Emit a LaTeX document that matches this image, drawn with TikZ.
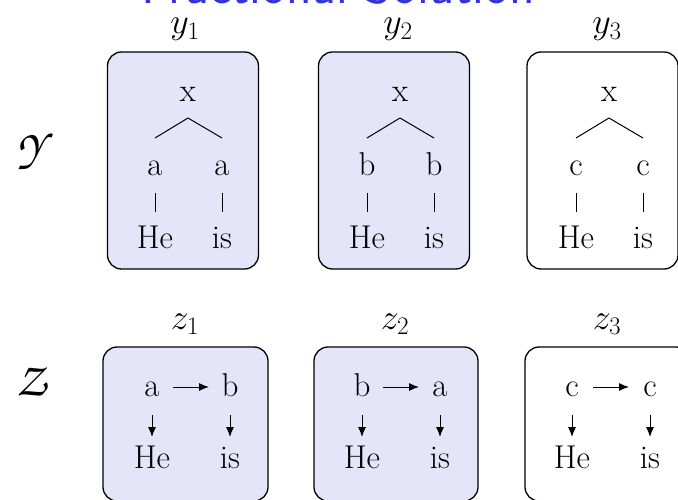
\RequirePackage{fix-cm}
\documentclass[tikz,border=0pt]{standalone}
\usetikzlibrary{calc,arrows.meta}
\definecolor{boxfill}{RGB}{229,229,250}
\definecolor{titleblue}{RGB}{51,51,220}
\tikzset{
  box/.style={draw=black, line width=1.3pt, rounded corners=14pt, inner sep=0pt},
  filledbox/.style={box, fill=boxfill},
  word/.style={inner sep=0pt, anchor=base, font=\fontsize{33}{40}\selectfont},
  lbl/.style={inner sep=0pt, anchor=base, font=\fontsize{36}{44}\selectfont},
  cal/.style={inner sep=0pt, font=\fontsize{47}{56}\usefont{OT1}{pzc}{mb}{it}},
  edge/.style={line width=1pt},
  arr/.style={line width=1pt, -{Latex[length=10pt,width=8pt]}},
}
\begin{document}
\begin{tikzpicture}[x=1pt,y=-1pt]
\useasboundingbox (0,0) rectangle (678,500);
\clip (0,0) rectangle (678,500);

% title
\node[inner sep=0pt, anchor=base, font=\sffamily\fontsize{53}{62}\selectfont, text=titleblue] (title) at (338.5,4) {Fractional Solution};

% row labels
\node[cal] (Ycal) at (31,151) {Y};
\node[cal] (Zcal) at (31,381) {Z};

% top boxes
\node[filledbox, minimum width=151pt, minimum height=217pt] (B1) at (183,160.5) {};
\node[filledbox, minimum width=151pt, minimum height=217pt] (B2) at (394,160.5) {};
\node[box, minimum width=151pt, minimum height=217pt] (B3) at (602.5,160.5) {};

\node[lbl] (y1) at (185,34) {$y_1$};
\node[lbl] (y2) at (398,34) {$y_2$};
\node[lbl] (y3) at (607,34) {$y_3$};

% bottom boxes
\node[filledbox, minimum width=165pt, minimum height=154pt] (C1) at (185.5,424) {};
\node[filledbox, minimum width=164pt, minimum height=154pt] (C2) at (396,424) {};
\node[box, minimum width=165pt, minimum height=154pt] (C3) at (607.5,424) {};

\node[lbl] (z1) at (185,329) {$z_1$};
\node[lbl] (z2) at (395,329) {$z_2$};
\node[lbl] (z3) at (607,329) {$z_3$};

% top trees
\foreach \i/\L/\c in {1/155/a, 2/367/b, 3/576/c}{
  \pgfmathsetmacro{\R}{\L+67}
  \pgfmathsetmacro{\M}{\L+33}
  \node[word] (x\i) at (\M,102) {x};
  \node[word] (l\i) at (\L,176) {\c};
  \node[word] (r\i) at (\R,176) {\c};
  \node[word] (hl\i) at (\L,248) {He};
  \node[word] (hr\i) at (\R,248) {is};
  \draw[edge] ($(x\i.base)+(0,16)$) -- ($(l\i.base)+(0,-38)$);
  \draw[edge] ($(x\i.base)+(0,16)$) -- ($(r\i.base)+(0,-38)$);
  \draw[edge] ($(l\i.base)+(0,17)$) -- ($(hl\i.base)+(0,-36)$);
  \draw[edge] ($(r\i.base)+(0,17)$) -- ($(hr\i.base)+(0,-36)$);
}

% bottom graphs
\foreach \i/\L/\p/\q in {1/152/a/b, 2/362/b/a, 3/572/c/c}{
  \pgfmathsetmacro{\R}{\L+78}
  \node[word] (p\i) at (\L,396) {\p};
  \node[word] (q\i) at (\R,396) {\q};
  \node[word] (gl\i) at (\L,468) {He};
  \node[word] (gr\i) at (\R,468) {is};
  \draw[arr] ($(p\i.base)+(21,-9)$) -- ($(q\i.base)+(-21,-9)$);
  \draw[arr] ($(p\i.base)+(0,19)$) -- ($(gl\i.base)+(0,-31)$);
  \draw[arr] ($(q\i.base)+(0,19)$) -- ($(gr\i.base)+(0,-31)$);
}
\end{tikzpicture}
\end{document}
